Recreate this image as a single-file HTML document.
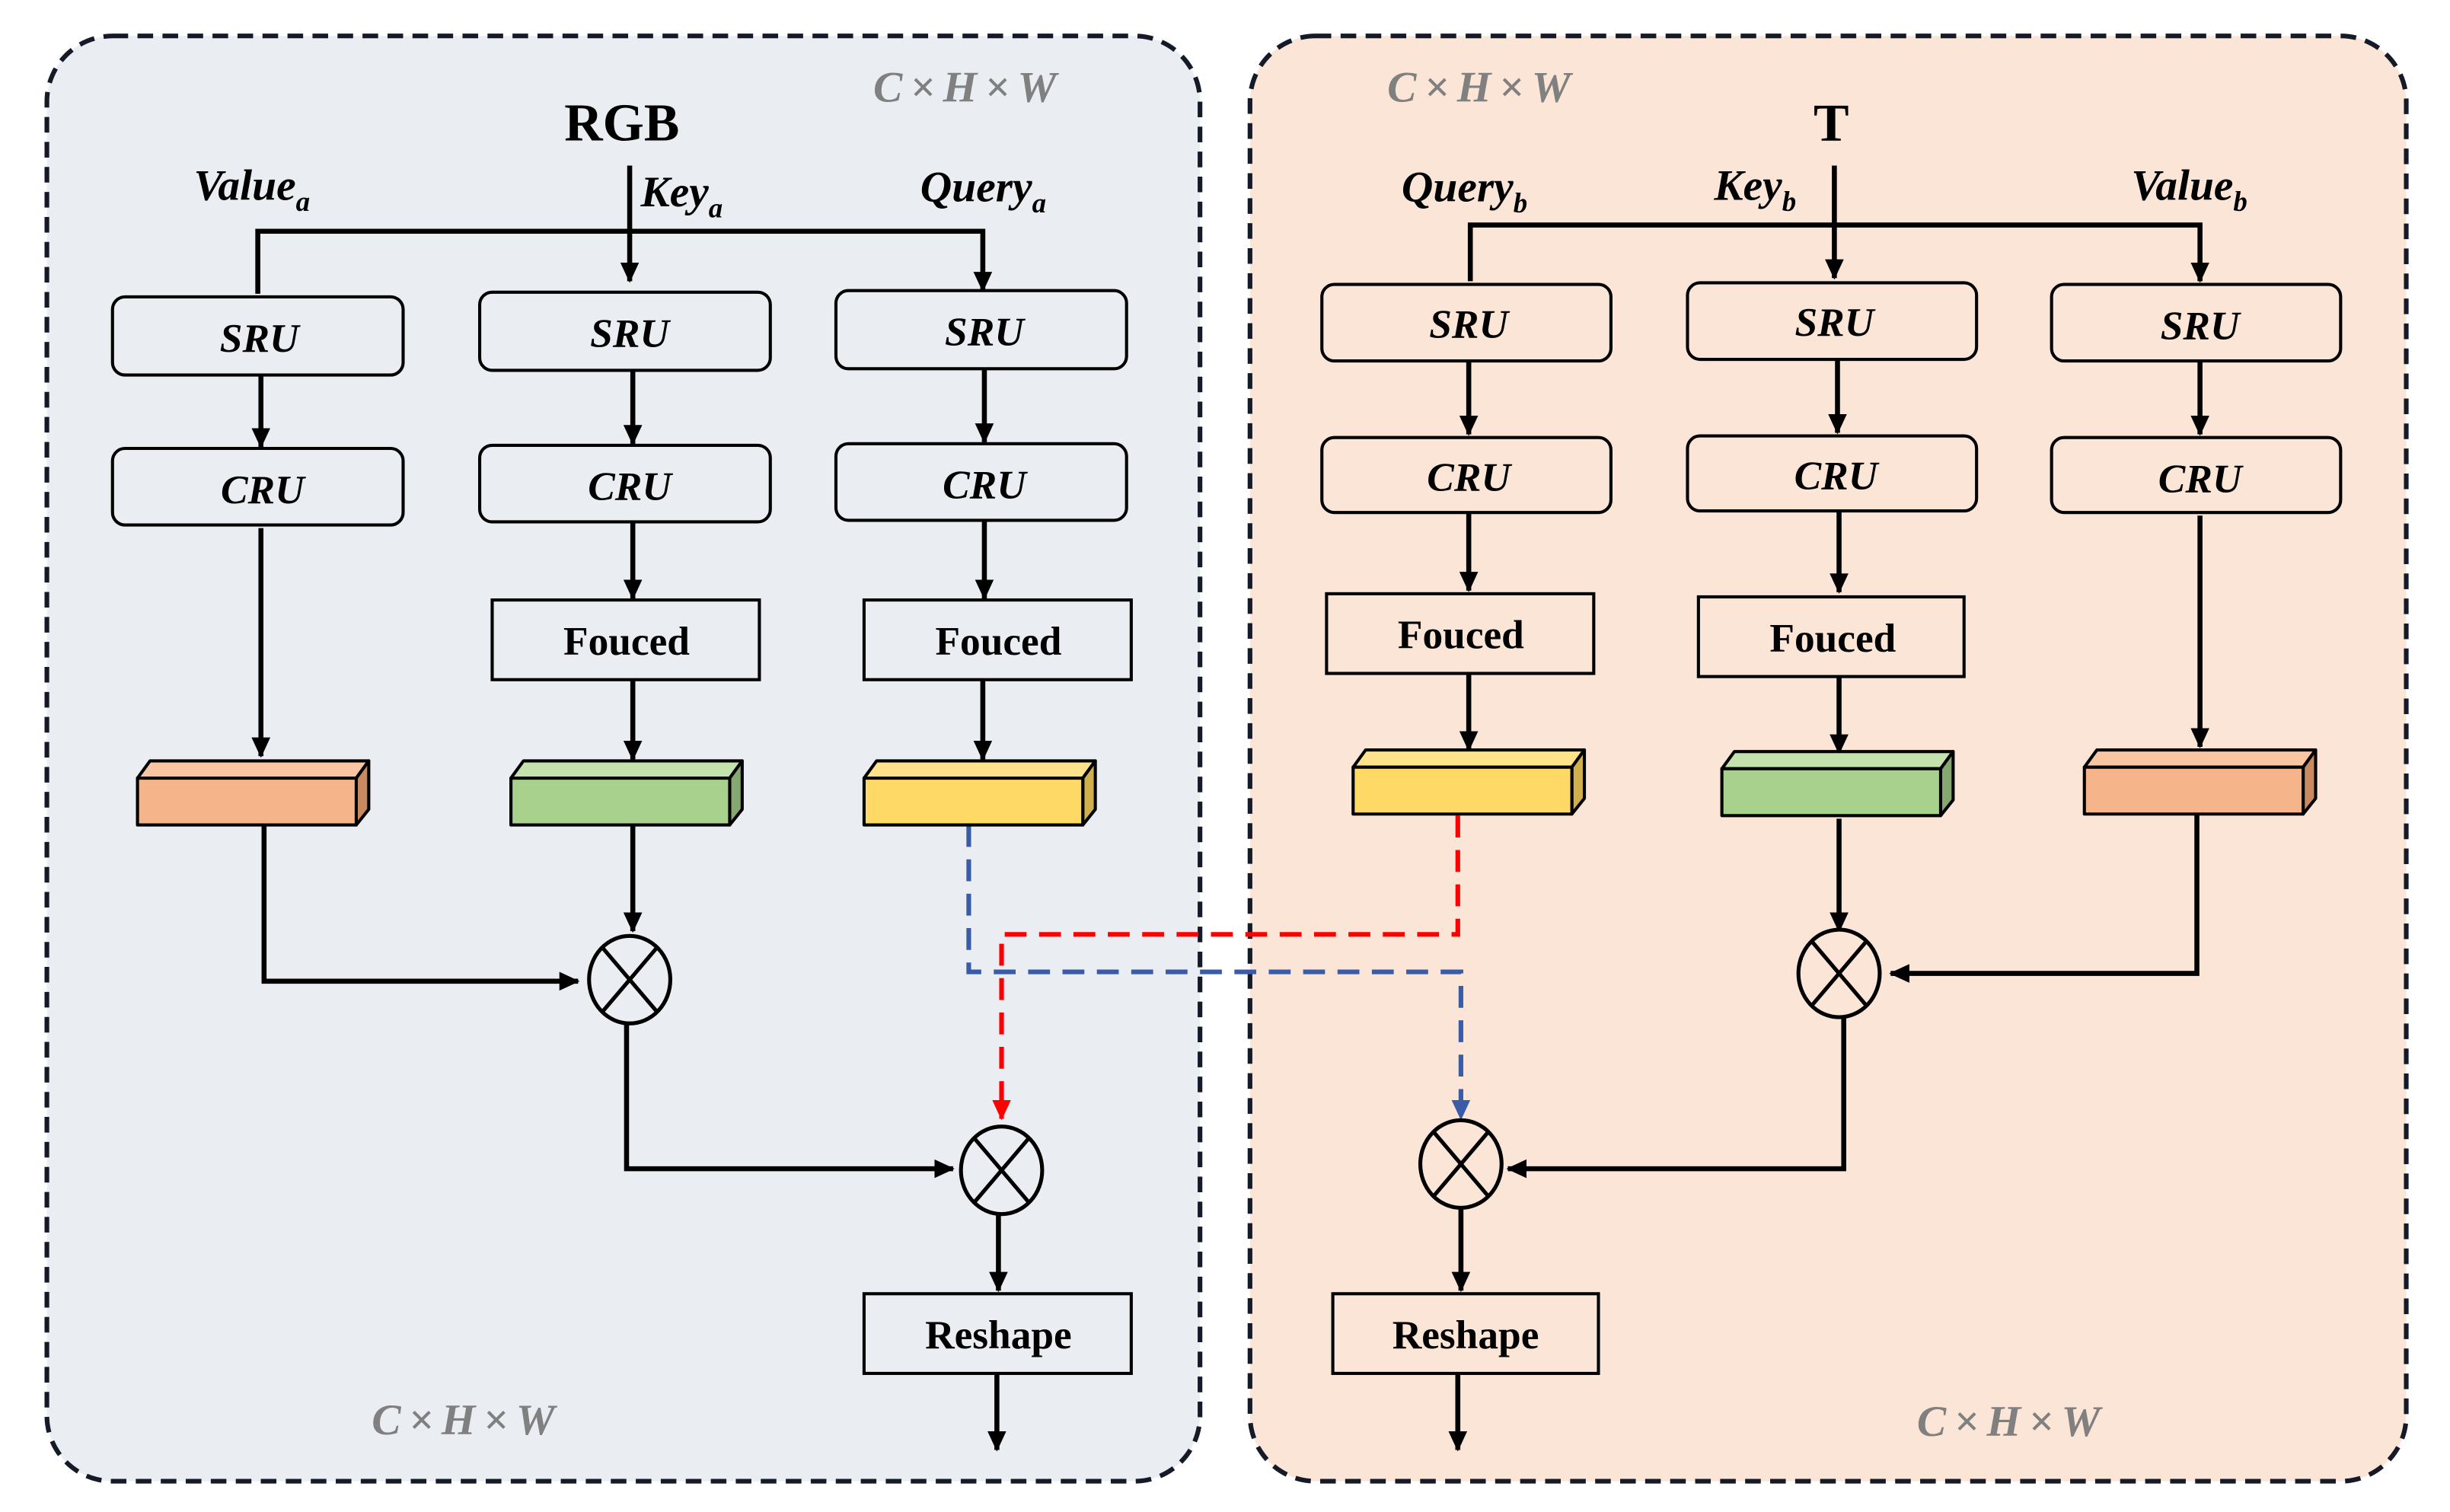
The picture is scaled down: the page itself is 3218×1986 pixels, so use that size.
<!DOCTYPE html>
<html><head><meta charset="utf-8"><style>html,body{margin:0;padding:0;background:#fff}svg{display:block}</style></head><body>
<svg width="3218" height="1986" viewBox="0 0 1568 967.7" preserveAspectRatio="none" xmlns="http://www.w3.org/2000/svg" font-family="'Liberation Serif', serif">
<defs>
<marker id="ak" markerWidth="13" markerHeight="12" refX="12" refY="6" orient="auto" markerUnits="userSpaceOnUse"><path d="M0,0 L13,6 L0,12 z" fill="#000"/></marker>
<marker id="ar" markerWidth="13" markerHeight="12" refX="12" refY="6" orient="auto" markerUnits="userSpaceOnUse"><path d="M0,0 L13,6 L0,12 z" fill="#f00"/></marker>
<marker id="ab" markerWidth="13" markerHeight="12" refX="12" refY="6" orient="auto" markerUnits="userSpaceOnUse"><path d="M0,0 L13,6 L0,12 z" fill="#3a5ca8"/></marker>
</defs>
<rect x="30" y="23" width="738" height="925" rx="42" fill="#eaedf2" stroke="#151a28" stroke-width="3" stroke-dasharray="10,6"/>
<rect x="800" y="23" width="740" height="925" rx="42" fill="#fbe5d6" stroke="#151a28" stroke-width="3" stroke-dasharray="10,6"/>

<g font-style="italic" font-weight="bold" fill="#808080" font-size="28" text-anchor="middle" letter-spacing="5">
<text x="620" y="65">C×H×W</text>
<text x="299" y="918">C×H×W</text>
<text x="949" y="65">C×H×W</text>
<text x="1288" y="919">C×H×W</text>
</g>

<g font-weight="bold" font-size="34" text-anchor="middle">
<text x="398" y="90">RGB</text>
<text x="1172" y="90">T</text>
</g>
<g font-weight="bold" font-style="italic" font-size="28">
<text x="124" y="128">Value<tspan font-size="18" dy="7">a</tspan></text>
<text x="410" y="132">Key<tspan font-size="18" dy="7">a</tspan></text>
<text x="589" y="129">Query<tspan font-size="18" dy="7">a</tspan></text>
<text x="897" y="129">Query<tspan font-size="18" dy="7">b</tspan></text>
<text x="1097" y="128">Key<tspan font-size="18" dy="7">b</tspan></text>
<text x="1364" y="128">Value<tspan font-size="18" dy="7">b</tspan></text>
</g>

<g fill="none" stroke="#000" stroke-width="3.2">
<line x1="403" y1="106" x2="403" y2="180" marker-end="url(#ak)"/>
<polyline points="165,188 165,148 629,148 629,186" marker-end="url(#ak)"/>
<line x1="1174" y1="106" x2="1174" y2="178" marker-end="url(#ak)"/>
<polyline points="941,180 941,144 1408,144 1408,180" marker-end="url(#ak)"/>
</g>
<g fill="none" stroke="#000" stroke-width="3.2" marker-end="url(#ak)">
<line x1="167" y1="240" x2="167" y2="286"/>
<line x1="405" y1="237" x2="405" y2="284"/>
<line x1="630" y1="236" x2="630" y2="283"/>
<line x1="167" y1="338" x2="167" y2="484"/>
<line x1="405" y1="334" x2="405" y2="383"/>
<line x1="630" y1="333" x2="630" y2="383"/>
<line x1="405" y1="435" x2="405" y2="486"/>
<line x1="629" y1="435" x2="629" y2="486"/>
<line x1="405" y1="528" x2="405" y2="596"/>
<polyline points="169,526 169,628 370,628"/>
<polyline points="401,655 401,748 610,748"/>
<line x1="639" y1="777" x2="639" y2="826"/>
<line x1="638" y1="879" x2="638" y2="928"/>
<line x1="940" y1="231" x2="940" y2="278"/>
<line x1="1176" y1="230" x2="1176" y2="277"/>
<line x1="1408" y1="231" x2="1408" y2="278"/>
<line x1="940" y1="328" x2="940" y2="378"/>
<line x1="1177" y1="327" x2="1177" y2="379"/>
<line x1="1408" y1="330" x2="1408" y2="478"/>
<line x1="940" y1="431" x2="940" y2="480"/>
<line x1="1177" y1="433" x2="1177" y2="482"/>
<line x1="1177" y1="524" x2="1177" y2="596"/>
<polyline points="1406,521 1406,623 1210,623"/>
<polyline points="1180,650 1180,748 965,748"/>
<line x1="935" y1="773" x2="935" y2="826"/>
<line x1="933" y1="879" x2="933" y2="928"/>
</g>

<polyline points="620,528 620,622 935,622 935,716" fill="none" stroke="#3a5ca8" stroke-width="3" stroke-dasharray="14,8" marker-end="url(#ab)"/>
<polyline points="933,522 933,598 641,598 641,716" fill="none" stroke="#f00" stroke-width="3" stroke-dasharray="14,8" marker-end="url(#ar)"/>

<g fill="none" stroke="#000" stroke-width="2">
<rect x="72" y="190" width="186" height="50" rx="8"/>
<rect x="307" y="187" width="186" height="50" rx="8"/>
<rect x="535" y="186" width="186" height="50" rx="8"/>
<rect x="72" y="287" width="186" height="49" rx="8"/>
<rect x="307" y="285" width="186" height="49" rx="8"/>
<rect x="535" y="284" width="186" height="49" rx="8"/>
<rect x="846" y="182" width="185" height="49" rx="8"/>
<rect x="1080" y="181" width="185" height="49" rx="8"/>
<rect x="1313" y="182" width="185" height="49" rx="8"/>
<rect x="846" y="280" width="185" height="48" rx="8"/>
<rect x="1080" y="279" width="185" height="48" rx="8"/>
<rect x="1313" y="280" width="185" height="48" rx="8"/>
<rect x="315" y="384" width="171" height="51"/>
<rect x="553" y="384" width="171" height="51"/>
<rect x="849" y="380" width="171" height="51"/>
<rect x="1087" y="382" width="170" height="51"/>
<rect x="553" y="828" width="171" height="51"/>
<rect x="853" y="828" width="170" height="51"/>
</g>
<g font-weight="bold" font-style="italic" font-size="26" text-anchor="middle">
<text x="166" y="225">SRU</text><text x="403" y="222">SRU</text><text x="630" y="221">SRU</text>
<text x="168" y="322">CRU</text><text x="403" y="320">CRU</text><text x="630" y="319">CRU</text>
<text x="940" y="216">SRU</text><text x="1174" y="215">SRU</text><text x="1408" y="217">SRU</text>
<text x="940" y="314">CRU</text><text x="1175" y="313">CRU</text><text x="1408" y="315">CRU</text>
</g>
<g font-weight="bold" font-size="26" text-anchor="middle">
<text x="401" y="419">Fouced</text><text x="639" y="419">Fouced</text>
<text x="935" y="415">Fouced</text><text x="1173" y="417">Fouced</text>
<text x="639" y="863">Reshape</text><text x="938" y="863">Reshape</text>
</g>

<g stroke="#000" stroke-width="2" stroke-linejoin="round">
<g transform="translate(88,498)"><polygon points="0,0 8,-11 148,-11 140,0" fill="#f9c5a3"/><polygon points="140,0 148,-11 148,20 140,30" fill="#c98a62"/><rect width="140" height="30" fill="#f6b48a"/></g>
<g transform="translate(327,498)"><polygon points="0,0 8,-11 148,-11 140,0" fill="#c3e2ad"/><polygon points="140,0 148,-11 148,20 140,30" fill="#86a870"/><rect width="140" height="30" fill="#a9d18e"/></g>
<g transform="translate(553,498)"><polygon points="0,0 8,-11 148,-11 140,0" fill="#ffe38a"/><polygon points="140,0 148,-11 148,20 140,30" fill="#d0b04c"/><rect width="140" height="30" fill="#ffd966"/></g>
<g transform="translate(866,491)"><polygon points="0,0 8,-11 148,-11 140,0" fill="#ffe38a"/><polygon points="140,0 148,-11 148,20 140,30" fill="#d0b04c"/><rect width="140" height="30" fill="#ffd966"/></g>
<g transform="translate(1102,492)"><polygon points="0,0 8,-11 148,-11 140,0" fill="#c3e2ad"/><polygon points="140,0 148,-11 148,20 140,30" fill="#86a870"/><rect width="140" height="30" fill="#a9d18e"/></g>
<g transform="translate(1334,491)"><polygon points="0,0 8,-11 148,-11 140,0" fill="#f9c5a3"/><polygon points="140,0 148,-11 148,20 140,30" fill="#c98a62"/><rect width="140" height="30" fill="#f6b48a"/></g>
</g>

<g fill="none" stroke="#000" stroke-width="2.5">
<g transform="translate(403,627)"><ellipse rx="26" ry="28" fill="#eaedf2"/><line x1="-17" y1="-20" x2="17" y2="20"/><line x1="17" y1="-20" x2="-17" y2="20"/></g>
<g transform="translate(641,749)"><ellipse rx="26" ry="28" fill="#eaedf2"/><line x1="-17" y1="-20" x2="17" y2="20"/><line x1="17" y1="-20" x2="-17" y2="20"/></g>
<g transform="translate(1177,623)"><ellipse rx="26" ry="28" fill="#fbe5d6"/><line x1="-17" y1="-20" x2="17" y2="20"/><line x1="17" y1="-20" x2="-17" y2="20"/></g>
<g transform="translate(935,745)"><ellipse rx="26" ry="28" fill="#fbe5d6"/><line x1="-17" y1="-20" x2="17" y2="20"/><line x1="17" y1="-20" x2="-17" y2="20"/></g>
</g>
</svg>
</body></html>
